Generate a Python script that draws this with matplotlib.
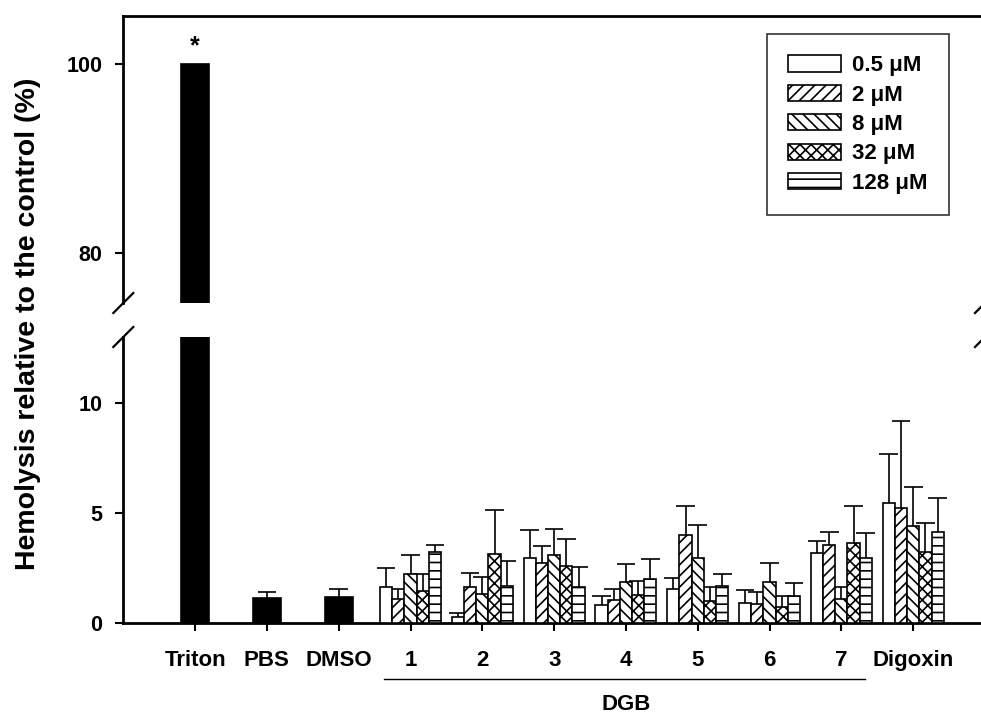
import numpy as np
import matplotlib
matplotlib.use('Agg')
import matplotlib.pyplot as plt
from matplotlib.transforms import blended_transform_factory

plt.rcParams['font.family'] = ['Liberation Sans', 'DejaVu Sans']
plt.rcParams['font.weight'] = 'bold'
plt.rcParams['hatch.linewidth'] = 1.2
plt.rcParams['hatch.color'] = 'black'

# Data
tick_labels = ['Triton', 'PBS', 'DMSO', '1', '2', '3', '4', '5', '6', '7', 'Digoxin']
control_vals = [100, 1.16, 1.21]
control_err = [0, 0.26, 0.36]

conc_labels = ['0.5 \u03bcM', '2 \u03bcM', '8 \u03bcM', '32 \u03bcM', '128 \u03bcM']
hatches = ['', '///', '\\\\\\', 'xxx', '--']

# groups: DGB 1-7, Digoxin
c05 = [1.66, 0.27, 2.97, 0.83, 1.54, 0.93, 3.17, 5.46]
c2 = [1.10, 1.63, 2.74, 1.05, 4.03, 0.86, 3.56, 5.25]
c8 = [2.26, 1.33, 3.08, 1.87, 2.97, 1.88, 1.09, 4.42]
c32 = [1.45, 3.14, 2.59, 1.30, 1.02, 0.75, 3.66, 3.24]
c128 = [3.26, 1.69, 1.66, 2.03, 1.69, 1.24, 2.98, 4.16]

e05 = [0.87, 0.20, 1.27, 0.42, 0.51, 0.56, 0.55, 2.24]
e2 = [0.47, 0.66, 0.77, 0.49, 1.28, 0.54, 0.57, 3.92]
e8 = [0.84, 0.76, 1.19, 0.84, 1.51, 0.85, 0.55, 1.79]
e32 = [0.78, 1.99, 1.26, 0.60, 0.64, 0.49, 1.66, 1.33]
e128 = [0.30, 1.13, 0.89, 0.87, 0.56, 0.60, 1.11, 1.55]

series_vals = [c05, c2, c8, c32, c128]
series_err = [e05, e2, e8, e32, e128]

W, H = 981, 715
fig = plt.figure(figsize=(W / 100, H / 100), dpi=100)
left = 123.3 / W
width = 861.7 / W
ax_top = fig.add_axes([left, 1 - 303 / H, width, 287 / H])
ax_bot = fig.add_axes([left, 1 - 623.3 / H, width, 286.3 / H])

x_ctrl = np.arange(3)
x_grp = np.arange(3, 11)
bw_ctrl = 0.385
bw = 0.17
cap = 0.13
lw = 1.2


def err_up(ax, x, y, e):
    if e <= 0:
        return
    ax.vlines(x, y, y + e, color='black', lw=lw, zorder=2)
    ax.hlines(y + e, x - cap, x + cap, color='black', lw=lw, zorder=2)


for ax in (ax_top, ax_bot):
    ax.bar(x_ctrl, control_vals, width=bw_ctrl, color='black', edgecolor='black', lw=lw, zorder=3)
    for xi, v, e in zip(x_ctrl, control_vals, control_err):
        err_up(ax, xi, v, e)
    for k in range(5):
        xs = x_grp + (k - 2) * bw
        ax.bar(xs, series_vals[k], width=bw, color='white', edgecolor='black',
               hatch=hatches[k], lw=lw, zorder=3, label=conc_labels[k])
        for xi, v, e in zip(xs, series_vals[k], series_err[k]):
            err_up(ax, xi, v, e)
    ax.set_xlim(-1, 11)
    ax.spines['right'].set_visible(False)
    for s in ax.spines.values():
        s.set_linewidth(2)
    ax.tick_params(axis='y', direction='out', length=6, width=1.5, pad=9, labelsize=15.5)

ax_top.set_ylim(74.7, 105.08)
ax_top.set_yticks([80, 100])
ax_top.spines['bottom'].set_visible(False)
ax_top.tick_params(axis='x', bottom=False, labelbottom=False)

ax_bot.set_ylim(0, 13.0)
ax_bot.set_yticks([0, 5, 10])
ax_bot.spines['top'].set_visible(False)
ax_bot.set_xticks(np.arange(11))
ax_bot.set_xticklabels(tick_labels)
ax_bot.tick_params(axis='x', direction='out', length=6, width=1.5, pad=13, labelsize=16)

# asterisk on Triton
ax_top.text(0, 100.6, '*', ha='center', va='bottom', fontsize=18)

# axis break marks
dx = 10 / 861.7
for ax, h in ((ax_top, 287.0), (ax_bot, 286.3)):
    dy = 10 / h
    yb = 0 if ax is ax_top else 1
    for xb in (0, 1):
        ax.plot([xb - dx, xb + dx], [yb - dy, yb + dy], transform=ax.transAxes,
                color='black', lw=1.6, clip_on=False)

# DGB grouping line and label
tr = blended_transform_factory(ax_bot.transData, ax_bot.transAxes)
ax_bot.plot([3 - 0.375, 9 + 0.33], [-0.1945, -0.1945], transform=tr, color='black',
            lw=1.0, clip_on=False)
ax_bot.text(6, -0.285, 'DGB', transform=tr, ha='center', va='center', fontsize=16)

fig.text(28 / W, 1 - 323.5 / H, 'Hemolysis relative to the control (%)', rotation=90,
         ha='center', va='center', fontsize=20.5)

handles, labels = ax_bot.get_legend_handles_labels()
leg = fig.legend(handles, labels, loc='upper right', bbox_to_anchor=(949 / W, 1 - 34 / H),
                 fontsize=16, frameon=True, fancybox=False, edgecolor='black',
                 borderpad=0.95, handlelength=2.4, handleheight=0.75, handletextpad=0.5,
                 labelspacing=0.38, borderaxespad=0)
leg.get_frame().set_linewidth(1.2)

fig.savefig('out.png', dpi=100)
